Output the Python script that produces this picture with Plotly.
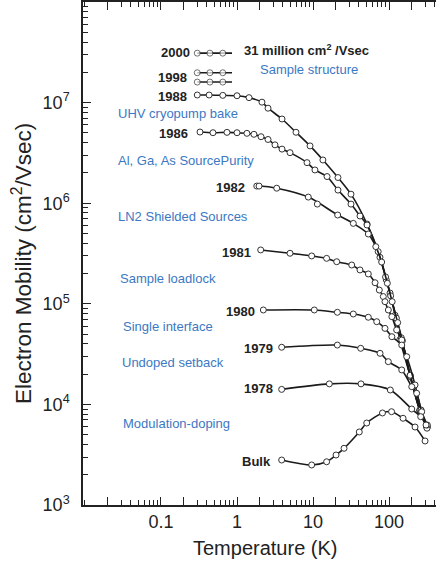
import plotly.graph_objects as go

# ---------------- data ----------------
t_2000 = [0.30, 0.44, 0.65, 0.86]
mu_2000 = [3.1e7, 3.1e7, 3.1e7, 3.1e7]

t_1998 = [0.30, 0.44, 0.65, 0.86]
mu_1998a = [1.98e7, 1.98e7, 1.98e7, 1.98e7]
mu_1998b = [1.6e7, 1.6e7, 1.6e7, 1.6e7]

t_1988 = [0.30, 0.43, 0.65, 1.0, 1.44, 2.13, 2.56, 3.91, 5.97, 9.14, 13.5, 21.3,
          31.6, 51.4, 76, 92, 103, 120, 139, 189, 255, 316]
mu_1988 = [1.19e7, 1.19e7, 1.18e7, 1.17e7, 1.12e7, 1.01e7, 8.8e6, 6.87e6, 5.07e6,
           3.71e6, 2.69e6, 1.80e6, 1.23e6, 6.2e5, 2.9e5, 1.73e5, 1.28e5, 7.7e4,
           4.4e4, 1.95e4, 8.8e3, 6.1e3]

t_1986 = [0.326, 0.483, 0.738, 1.0, 1.35, 1.67, 2.07, 2.56, 3.16, 3.91, 4.98, 8.34,
          10.6, 15.3, 21.3, 31.6, 41.5, 51.4, 72, 90, 105, 125, 145, 190, 255, 316]
mu_1986 = [5.1e6, 5.02e6, 5.06e6, 5.02e6, 4.95e6, 4.84e6, 4.58e6, 4.3e6, 3.8e6,
           3.45e6, 3.18e6, 2.53e6, 2.14e6, 1.84e6, 1.35e6, 9.8e5, 7.46e5, 6.07e5,
           3.3e5, 1.85e5, 1.2e5, 7.2e4, 4.6e4, 1.9e4, 8.7e3, 6.0e3]

t_1982 = [1.82, 1.95, 3.33, 8.67, 11.4, 21.1, 33.9, 53.4, 67, 80, 95, 110, 130,
          150, 190, 255, 316]
mu_1982 = [1.48e6, 1.48e6, 1.41e6, 1.15e6, 9.8e5, 7.63e5, 6.3e5, 4.94e5, 3.7e5,
           2.6e5, 1.6e5, 1.05e5, 6.5e4, 4.3e4, 1.9e4, 8.6e3, 5.9e3]
outliers_1982 = [4]  # scattered point the fitted line does not pass through

t_1981 = [2.05, 4.98, 9.6, 15.1, 20.5, 32.3, 41.5, 53.4, 65.5, 74.5, 84.1, 88.5,
          97.9, 109, 126, 147, 190, 255, 316]
mu_1981 = [3.43e5, 3.18e5, 2.99e5, 2.83e5, 2.62e5, 2.43e5, 2.17e5, 1.98e5, 1.62e5,
           1.37e5, 1.18e5, 1.05e5, 8.68e4, 7.45e4, 5.5e4, 4.37e4, 1.95e4, 8.8e3,
           5.9e3]

t_1980 = [2.22, 10.4, 20.9, 33.9, 53.4, 68.9, 88.5, 109, 147, 171, 220, 264, 316]
mu_1980 = [8.68e4, 8.68e4, 8.23e4, 7.92e4, 7.35e4, 6.64e4, 5.7e4, 4.71e4, 3.89e4,
           2.98e4, 1.56e4, 8.8e3, 5.8e3]

t_1979 = [3.87, 20.9, 42.4, 76.2, 97.9, 147, 199, 231, 269, 319]
mu_1979 = [3.7e4, 3.89e4, 3.61e4, 3.22e4, 2.66e4, 2.2e4, 1.5e4, 1.29e4, 8.45e3,
           6.24e3]

t_1978 = [3.87, 16.4, 42.8, 104, 199, 261, 307]
mu_1978 = [1.41e4, 1.6e4, 1.6e4, 1.39e4, 9.0e3, 7.55e3, 6.24e3]

t_bulk = [3.87, 9.6, 15.1, 20.1, 25.6, 40.6, 50.9, 82, 108, 153, 220, 298]
mu_bulk = [2.8e3, 2.5e3, 2.69e3, 3.14e3, 3.66e3, 5.32e3, 6.53e3, 8.22e3, 8.46e3,
           7.28e3, 5.96e3, 4.33e3]

year_labels = ["2000", "1998", "1988", "1986", "1982", "1981", "1980", "1979",
               "1978", "Bulk"]
improvements = ["Sample structure", "UHV cryopump bake", "Al, Ga, As SourcePurity",
                "LN2 Shielded Sources", "Sample loadlock", "Single interface",
                "Undoped setback", "Modulation-doping"]
record_text = "31 million cm<sup>2</sup> /Vsec"
x_title = "Temperature (K)"
y_title = "Electron Mobility (cm<sup>2</sup>/Vsec)"

x_tickvals = [0.1, 1, 10, 100]
x_ticktext = ["0.1", "1", "10", "100"]
x_long_ticks = [0.02, 0.2, 2, 20, 200]
y_tickvals = [1e3, 1e4, 1e5, 1e6, 1e7]
y_ticktext = ["10<sup>3</sup>", "10<sup>4</sup>", "10<sup>5</sup>",
              "10<sup>6</sup>", "10<sup>7</sup>"]

# ---------------- figure ----------------
W, H = 436, 565
ML, MR, MT, MB = 83, 0, 2, 60
PW, PH = W - ML - MR, H - MT - MB
X_RANGE = [-2.026, 2.618]
INK = "#222222"
FONT = "Liberation Sans, Arial"


def px(x):
    return (x - ML) / PW


def py(y):
    return (H - MB - y) / PH


fig = go.Figure()
LINE = dict(color="#1a1a1a", width=1.6, shape="spline", smoothing=0.8)
MARK = dict(symbol="circle", size=6, color="white",
            line=dict(color="#333333", width=1))


def add_series(t, mu, marker_sizes=None, skip_line=()):
    lt = [v for i, v in enumerate(t) if i not in skip_line]
    lm = [v for i, v in enumerate(mu) if i not in skip_line]
    fig.add_trace(go.Scatter(x=lt, y=lm, mode="lines", line=LINE,
                             hoverinfo="skip", showlegend=False))
    mk = dict(MARK)
    if marker_sizes is not None:
        mk["size"] = marker_sizes
    fig.add_trace(go.Scatter(x=t, y=mu, mode="markers", marker=mk,
                             showlegend=False))


short_sizes = [6, 6, 6, 0]
add_series(t_2000, mu_2000, short_sizes)
add_series(t_1998, mu_1998a, short_sizes)
add_series(t_1998, mu_1998b, short_sizes)
add_series(t_1988, mu_1988)
add_series(t_1986, mu_1986)
add_series(t_1982, mu_1982, skip_line=outliers_1982)
add_series(t_1981, mu_1981)
add_series(t_1980, mu_1980)
add_series(t_1979, mu_1979)
add_series(t_1978, mu_1978)
add_series(t_bulk, mu_bulk)

# invisible trace on the overlay axis so it is drawn
fig.add_trace(go.Scatter(x=[1], y=[1e5], xaxis="x2", mode="markers",
                         marker=dict(size=0, opacity=0), hoverinfo="skip",
                         showlegend=False))

year_pos = [(192, 52), (189, 77), (189, 97), (190, 133), (247, 187), (253, 252),
            (257, 311), (275, 348), (275, 389), (273, 461)]
for lab, (x, y) in zip(year_labels, year_pos):
    fig.add_annotation(x=px(x), y=py(y), xref="paper", yref="paper",
                       text="<b>" + lab + "</b>", showarrow=False,
                       xanchor="right", yanchor="middle",
                       font=dict(family=FONT, size=13, color=INK))

fig.add_annotation(x=px(242), y=py(50), xref="paper", yref="paper",
                   text="<b>" + record_text + "</b>", showarrow=False,
                   xanchor="left", yanchor="middle",
                   font=dict(family=FONT, size=13, color=INK))

imp_pos = [(258, 69), (116, 113), (116, 160), (116, 216), (118, 278), (121, 326),
           (120, 362), (121, 423)]
for lab, (x, y) in zip(improvements, imp_pos):
    fig.add_annotation(x=px(x), y=py(y), xref="paper", yref="paper", text=lab,
                       showarrow=False, xanchor="left", yanchor="middle",
                       font=dict(family=FONT, size=13, color="#3c78c3"))

# axis titles
fig.add_annotation(x=px(22), y=py(264), xref="paper", yref="paper", text=y_title,
                   textangle=-90, showarrow=False, xanchor="center", yanchor="middle",
                   font=dict(family=FONT, size=22.5, color=INK))
fig.add_annotation(x=px(265), y=py(548), xref="paper", yref="paper", text=x_title,
                   showarrow=False, xanchor="center", yanchor="middle",
                   font=dict(family=FONT, size=20, color=INK))

axis_font = dict(family=FONT, size=18, color=INK)
fig.update_layout(
    xaxis=dict(type="log", range=X_RANGE, tickmode="array",
               tickvals=x_tickvals, ticktext=x_ticktext,
               ticks="inside", ticklen=8, tickwidth=1, tickcolor=INK,
               showline=True, linecolor=INK, linewidth=1.5, mirror="ticks",
               showgrid=False, zeroline=False, tickfont=axis_font,
               minor=dict(ticks="inside", ticklen=5, dtick="D1", tickcolor=INK,
                          tickwidth=1, showgrid=False)),
    xaxis2=dict(type="log", range=X_RANGE, overlaying="x", anchor="y", side="bottom",
                tickmode="array", tickvals=x_long_ticks, showticklabels=False,
                ticks="inside", ticklen=8, tickwidth=1, tickcolor=INK,
                showline=True, linecolor=INK, linewidth=1.5, mirror="ticks",
                showgrid=False, zeroline=False),
    yaxis=dict(type="log", range=[3, 8], tickmode="array",
               tickvals=y_tickvals, ticktext=y_ticktext,
               ticks="inside", ticklen=8, tickwidth=1, tickcolor=INK,
               showline=True, linecolor=INK, linewidth=1.5, mirror=False,
               showgrid=False, zeroline=False, tickfont=axis_font,
               ticklabelstandoff=8,
               minor=dict(ticks="inside", ticklen=5, dtick="D1", tickcolor=INK,
                          tickwidth=1, showgrid=False)),
    width=W, height=H, margin=dict(l=ML, r=MR, t=MT, b=MB),
    paper_bgcolor="white", plot_bgcolor="white", showlegend=False)

fig.write_html("out.html")
